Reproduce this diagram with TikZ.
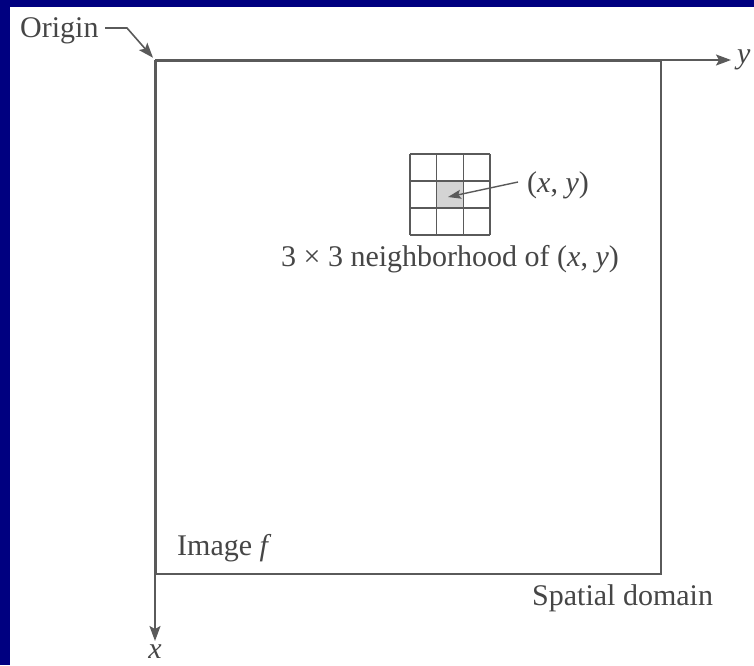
\documentclass[tikz,border=0pt]{standalone}
\usepackage{fontspec}
\setmainfont{Liberation Serif}
\usetikzlibrary{arrows.meta}
\definecolor{navy}{RGB}{0,0,128}
\definecolor{ink}{RGB}{90,90,90}
\definecolor{txt}{RGB}{70,70,70}
\definecolor{cellgray}{RGB}{212,212,212}
\begin{document}
\begin{tikzpicture}[x=1pt,y=-1pt,
  lbl/.style={inner sep=0pt, text=txt, font=\fontsize{30}{34}\selectfont},
  ln/.style={draw=ink, line width=1.6pt},
  arr/.style={ln, -{Stealth[length=15pt,width=11pt,inset=3pt]}},
  sarr/.style={ln, line width=1.4pt, -{Stealth[length=13pt,width=9pt,inset=2.5pt]}}]
\useasboundingbox (0,0) rectangle (754,665);
\fill[white] (0,0) rectangle (754,665);
\fill[navy] (0,0) rectangle (754,7);
\fill[navy] (0,0) rectangle (9.5,665);
% image frame
\node[ln, minimum width=505pt, minimum height=513pt, anchor=north west, inner sep=0pt] (img) at (155,60) {};
\coordinate (O) at (155,60);
\coordinate (Yend) at (731,60);
\coordinate (Xend) at (155,641);
\draw[arr] (O) -- (Yend);
\draw[arr] (O) -- (Xend);
\node[lbl, anchor=base west] (ylab) at (737,63) {\textit{y}};
\node[lbl, anchor=north] (xlab) at (155,645) {\textit{x}};
% origin
\node[lbl, anchor=base west] (orig) at (20,37) {Origin};
\coordinate (obend) at (127,28);
\coordinate (ostart) at (105,28);
\draw[arr, shorten >=3pt] (ostart) -- (obend) -- (O);
% grid
\fill[cellgray] (436.7,181) rectangle (463.3,208);
\foreach \xx in {410,436.7,463.3,490} \draw[ln, line width=1.3pt] (\xx,154) -- (\xx,235);
\foreach \yy in {154,181,208,235} \draw[ln, line width=1.3pt] (410,\yy) -- (490,\yy);
\coordinate (cc) at (448,197);
\node[lbl, anchor=base west] (xy) at (527,192) {(\textit{x}, \textit{y})};
\coordinate (xystart) at (518,182);
\draw[sarr] (xystart) -- (cc);
\node[lbl, anchor=base] (nb) at (450,266) {3 × 3 neighborhood of (\textit{x}, \textit{y})};
% labels
\node[lbl, anchor=base west] (imf) at (177,555) {Image \textit{f}};
\node[lbl, anchor=base west] (sd) at (532,605) {Spatial domain};
\end{tikzpicture}
\end{document}
